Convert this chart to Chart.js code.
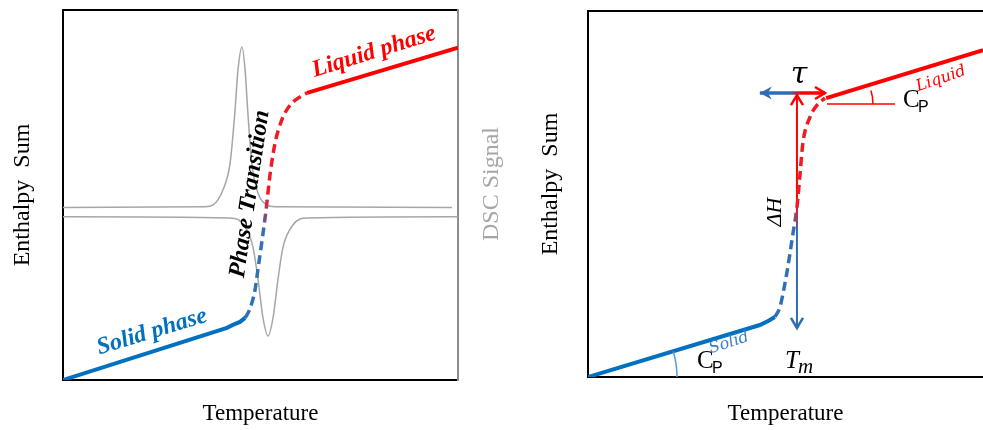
<!DOCTYPE html>
<html>
<head>
<meta charset="utf-8">
<script src="https://cdn.jsdelivr.net/npm/chart.js@4.4.1/dist/chart.umd.min.js"></script>
<style>
  html, body { margin: 0; padding: 0; background: #fff; }
  #wrap { position: relative; width: 983px; height: 430px; overflow: hidden; }
  .panel { position: absolute; top: 0; height: 430px; }
  #left { left: 0; width: 520px; }
  #right { left: 520px; width: 463px; }
</style>
</head>
<body>
<div id="wrap">
  <div class="panel" id="left"><canvas id="dscChart"></canvas></div>
  <div class="panel" id="right"><canvas id="enthalpyChart"></canvas></div>
</div>
<script>
// ---- left panel: enthalpy curve + DSC signal (arbitrary units 0..100) ----
const solidT = [0, 41.5, 43.0, 44.8, 46.1];
const solidH = [0, 14.1, 14.9, 15.7, 16.8];
const transT = [46.1, 47.3, 48.6, 49.4, 50.4, 51.4, 52.4, 53.7, 55.4, 57.5, 60.0, 61.8];
const transH = [16.8, 19.2, 24.3, 30.3, 37.8, 45.9, 55.4, 64.1, 70.3, 74.3, 76.5, 77.6];
const liquidT = [61.8, 100];
const liquidH = [77.6, 89.8];

const dscHeatT = [0, 35.9, 38.0, 40.5, 42.3, 43.5, 44.3, 45.3, 46.1, 46.8, 47.8, 49.1, 51.6, 53.7, 98.5];
const dscHeatS = [46.6, 46.8, 47.3, 51.4, 58.6, 72.2, 83.8, 90.0, 83.8, 72.2, 58.6, 51.4, 47.3, 46.8, 46.6];
const dscCoolT = [0, 42.3, 46.1, 48.1, 49.4, 50.6, 51.9, 53.2, 54.4, 55.7, 58.2, 61.8, 100];
const dscCoolS = [44.1, 43.8, 41.4, 35.9, 27.0, 17.0, 11.9, 17.0, 27.0, 35.9, 41.9, 43.8, 44.1];

// ---- right panel: enthalpy curve with Tm, dH, tau, Cp ----
const solidT2 = [0, 43.5, 45.6, 47.3];
const solidH2 = [0, 14.2, 15.3, 16.4];
const transT2 = [47.3, 48.6, 49.4, 50.6, 51.9, 52.9, 53.7, 54.4, 56.2, 58.0, 60.0];
const transH2 = [16.4, 19.1, 23.0, 30.1, 39.3, 46.4, 55.7, 63.9, 71.0, 74.3, 76.2];
const liquidT2 = [60.3, 100];
const liquidH2 = [76.2, 89.3];

const meltT = 52.9;                 // Tm
const dHArrowH = [13.4, 77.0];      // latent heat arrow, bottom / top
const tauArrowT = [43.5, 60.0];     // transition width arrow, left / right
const tauArrowH = 77.6;
const cpLiqRefT = [60.5, 77.7];     // horizontal reference for Cp liquid angle
const cpLiqRefH = 74.6;

const BLUE = '#0070c0';
const BLUE_DASH = '#3270b6';
const ARROW_BLUE = '#2e6db3';
const RED = '#ff0000';
const RED_DASH = '#f01a22';
const GREY = '#a6a6a6';
const SERIF = "'Liberation Serif', 'Times New Roman', serif";

const pts = (xs, ys) => xs.map((x, i) => ({ x, y: ys[i] }));

function vGradient(chart, lowH, highH, low, high) {
    const { ctx, chartArea, scales } = chart;
    if (!chartArea) return low;
    const g = ctx.createLinearGradient(0, scales.y.getPixelForValue(lowH), 0, scales.y.getPixelForValue(highH));
    g.addColorStop(0, low);
    g.addColorStop(1, high);
    return g;
}

function hGradient(chart, leftT, rightT, left, right) {
    const { ctx, chartArea, scales } = chart;
    if (!chartArea) return left;
    const g = ctx.createLinearGradient(scales.x.getPixelForValue(leftT), 0, scales.x.getPixelForValue(rightT), 0);
    g.addColorStop(0, left);
    g.addColorStop(1, right);
    return g;
}

function drawText(ctx, text, x, y, font, color, angleDeg, align) {
    ctx.save();
    ctx.translate(x, y);
    ctx.rotate((angleDeg || 0) * Math.PI / 180);
    ctx.font = font;
    ctx.fillStyle = color;
    ctx.textAlign = align || 'center';
    ctx.textBaseline = align ? 'alphabetic' : 'middle';
    ctx.fillText(text, 0, 0);
    ctx.restore();
}

function chevron(ctx, x, y, angle, color) {
    ctx.save();
    ctx.translate(x, y);
    ctx.rotate(angle);
    ctx.strokeStyle = color;
    ctx.lineWidth = 2.5;
    ctx.beginPath();
    ctx.moveTo(-10, -6);
    ctx.lineTo(0, 0);
    ctx.lineTo(-10, 6);
    ctx.stroke();
    ctx.restore();
}

function stealth(ctx, x, y, angle, color) {
    ctx.save();
    ctx.translate(x, y);
    ctx.rotate(angle);
    ctx.fillStyle = color;
    ctx.beginPath();
    ctx.moveTo(0, 0);
    ctx.lineTo(-12, -6.5);
    ctx.lineTo(-8, 0);
    ctx.lineTo(-12, 6.5);
    ctx.closePath();
    ctx.fill();
    ctx.restore();
}

function baseOptions(padding, xHeight, yWidth, titleOnY) {
    return {
        animation: false,
        responsive: true,
        maintainAspectRatio: false,
        events: [],
        layout: { padding },
        plugins: { legend: { display: false }, tooltip: { enabled: false } },
        elements: { point: { radius: 0 } },
        scales: {
            x: {
                type: 'linear', min: 0, max: 100,
                grid: { display: false }, border: { display: false },
                ticks: { display: false },
                title: { display: true, text: 'Temperature', color: '#000', padding: 0,
                         font: { family: SERIF, size: 23 } },
                afterFit: (s) => { s.height = xHeight; }
            },
            y: {
                type: 'linear', min: 0, max: 100,
                grid: { display: false }, border: { display: false },
                ticks: { display: false },
                title: { display: titleOnY, text: 'Enthalpy  Sum', color: '#000', padding: 0,
                         font: { family: SERIF, size: 24 } },
                afterFit: (s) => { s.width = yWidth; }
            }
        }
    };
}

// ---------------- left chart ----------------
const leftDecor = {
    id: 'leftDecor',
    beforeDatasetsDraw(chart) {
        const { ctx, chartArea: a } = chart;
        ctx.save();
        ctx.lineWidth = 2;
        ctx.strokeStyle = '#000';
        ctx.beginPath();
        ctx.moveTo(a.right, a.top);
        ctx.lineTo(a.left, a.top);
        ctx.lineTo(a.left, a.bottom);
        ctx.lineTo(a.right, a.bottom);
        ctx.stroke();
        ctx.strokeStyle = '#8c8c8c';
        ctx.beginPath();
        ctx.moveTo(a.right, a.top - 1);
        ctx.lineTo(a.right, a.bottom + 1);
        ctx.stroke();
        ctx.restore();
    },
    afterDatasetsDraw(chart) {
        const { ctx } = chart;
        const bi = 'bold italic 24px ' + SERIF;
        drawText(ctx, 'Liquid phase', 374, 52, bi, RED, -17.3);
        drawText(ctx, 'Solid phase', 152, 332, bi, BLUE, -17);
        drawText(ctx, 'Phase Transition', 250, 194, bi, '#000', -81.5);
        drawText(ctx, 'DSC Signal', 492, 184, '24px ' + SERIF, GREY, -90);
    }
};

const leftOpts = baseOptions({ left: 8, right: 62, top: 10, bottom: 2 }, 48, 55, true);
leftOpts.scales.dsc = { type: 'linear', min: 0, max: 100, display: false };

new Chart(document.getElementById('dscChart'), {
    type: 'line',
    data: {
        datasets: [
            { data: pts(solidT, solidH), borderColor: BLUE, borderWidth: 4, order: 1 },
            { data: pts(transT, transH), borderWidth: 3.5, borderDash: [9, 5], order: 1,
              cubicInterpolationMode: 'monotone',
              borderColor: (c) => vGradient(c.chart, 40, 50, BLUE_DASH, RED_DASH) },
            { data: pts(liquidT, liquidH), borderColor: RED, borderWidth: 4, order: 1 },
            { data: pts(dscHeatT, dscHeatS), yAxisID: 'dsc', borderColor: GREY, borderWidth: 1.5,
              cubicInterpolationMode: 'monotone', order: 2 },
            { data: pts(dscCoolT, dscCoolS), yAxisID: 'dsc', borderColor: GREY, borderWidth: 1.5,
              cubicInterpolationMode: 'monotone', order: 2 }
        ]
    },
    options: leftOpts,
    plugins: [leftDecor]
});

// ---------------- right chart ----------------
const rightDecor = {
    id: 'rightDecor',
    beforeDatasetsDraw(chart) {
        const { ctx, chartArea: a } = chart;
        ctx.save();
        ctx.lineWidth = 2;
        ctx.strokeStyle = '#000';
        ctx.beginPath();
        ctx.moveTo(a.right + 2, a.top);
        ctx.lineTo(a.left, a.top);
        ctx.lineTo(a.left, a.bottom);
        ctx.lineTo(a.right + 2, a.bottom);
        ctx.stroke();
        ctx.restore();
    },
    afterDatasetsDraw(chart) {
        const { ctx, scales: { x, y } } = chart;
        // arrow heads
        const mx = x.getPixelForValue(meltT);
        chevron(ctx, mx, y.getPixelForValue(dHArrowH[1]), -Math.PI / 2, RED);
        chevron(ctx, mx, y.getPixelForValue(dHArrowH[0]), Math.PI / 2, ARROW_BLUE);
        const ty = y.getPixelForValue(tauArrowH);
        stealth(ctx, x.getPixelForValue(tauArrowT[0]), ty, Math.PI, ARROW_BLUE);
        chevron(ctx, x.getPixelForValue(tauArrowT[1]), ty, 0, RED);

        // Cp angle arcs
        ctx.save();
        ctx.lineWidth = 1.5;
        const ox = x.getPixelForValue(solidT2[0]), oy = y.getPixelForValue(solidH2[0]);
        const sa = Math.atan2(y.getPixelForValue(solidH2[1]) - oy, x.getPixelForValue(solidT2[1]) - ox);
        ctx.strokeStyle = '#5b9bd5';
        ctx.beginPath();
        ctx.arc(ox, oy, 89, sa, 0);
        ctx.stroke();
        const lx = x.getPixelForValue(cpLiqRefT[0]), ly = y.getPixelForValue(cpLiqRefH);
        const la = Math.atan2(y.getPixelForValue(liquidH2[1]) - y.getPixelForValue(liquidH2[0]),
                              x.getPixelForValue(liquidT2[1]) - x.getPixelForValue(liquidT2[0]));
        ctx.strokeStyle = RED;
        ctx.beginPath();
        ctx.arc(lx, ly, 46, la, 0);
        ctx.stroke();
        ctx.restore();

        // labels
        drawText(ctx, 'Enthalpy  Sum', 31, 184, '24px ' + SERIF, '#000', -90);
        drawText(ctx, '\u03C4', 279, 75, "italic 30px 'DejaVu Serif'", '#000');
        drawText(ctx, '\u0394H', 255, 212, 'italic 22px ' + SERIF, '#000', -90);
        drawText(ctx, 'T', 265, 368, 'italic 25px ' + SERIF, '#000', 0, 'left');
        drawText(ctx, 'm', 278, 373, 'italic 21px ' + SERIF, '#000', 0, 'left');
        drawText(ctx, 'C', 177, 368, '25px ' + SERIF, '#000', 0, 'left');
        drawText(ctx, 'P', 192, 373, "16px 'Liberation Sans'", '#000', 0, 'left');
        drawText(ctx, 'Solid', 209, 343, "italic 16px 'DejaVu Serif'", '#3a7fc8', -18);
        drawText(ctx, 'C', 383, 107, '25px ' + SERIF, '#000', 0, 'left');
        drawText(ctx, 'P', 398, 112, "16px 'Liberation Sans'", '#000', 0, 'left');
        drawText(ctx, 'Liquid', 421, 79, "italic 16px 'DejaVu Serif'", RED, -19);
    }
};

new Chart(document.getElementById('enthalpyChart'), {
    type: 'line',
    data: {
        datasets: [
            { data: pts(solidT2, solidH2), borderColor: BLUE, borderWidth: 4 },
            { data: pts(transT2, transH2), borderWidth: 3.5, borderDash: [9, 5],
              cubicInterpolationMode: 'monotone',
              borderColor: (c) => vGradient(c.chart, 40, 47, BLUE_DASH, RED_DASH) },
            { data: pts(liquidT2, liquidH2), borderColor: RED, borderWidth: 4 },
            { data: pts([meltT, meltT], dHArrowH), borderWidth: 2,
              borderColor: (c) => vGradient(c.chart, 40, 47, ARROW_BLUE, RED) },
            { data: pts(tauArrowT, [tauArrowH, tauArrowH]), borderWidth: 3.5,
              borderColor: (c) => hGradient(c.chart, 51.1, 54.2, ARROW_BLUE, RED) },
            { data: pts(cpLiqRefT, [cpLiqRefH, cpLiqRefH]), borderColor: RED, borderWidth: 1.5 }
        ]
    },
    options: baseOptions({ left: 68, right: 0, top: 11, bottom: 2 }, 51, 0, false),
    plugins: [rightDecor]
});
</script>
</body>
</html>
